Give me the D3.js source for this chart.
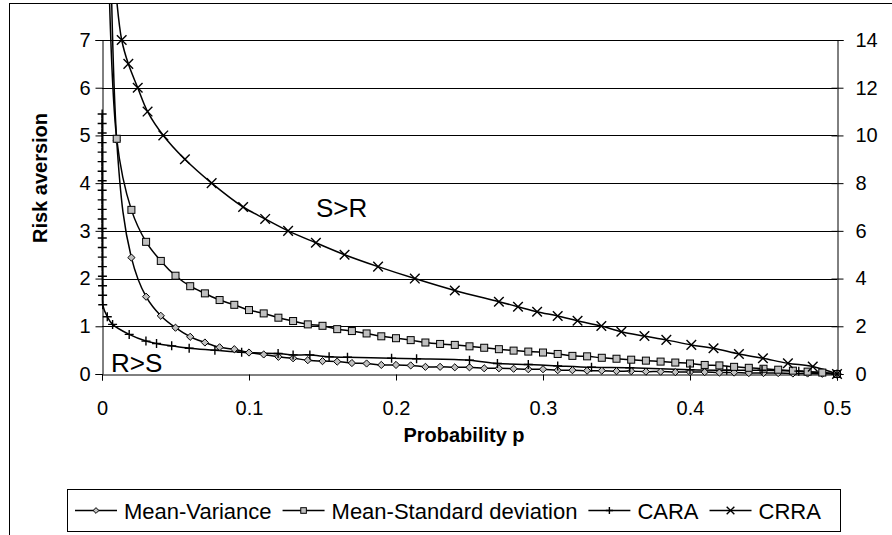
<!DOCTYPE html>
<html><head><meta charset="utf-8">
<script src="https://cdn.jsdelivr.net/npm/d3@7"></script>
<style>body{margin:0;background:#fff}svg{display:block}text{font-family:"Liberation Sans",Arial,sans-serif}</style>
</head><body><svg id="c" width="892" height="535"></svg>
<script>
// ---- data ----
const xTicks = [0, 0.1, 0.2, 0.3, 0.4, 0.5];
const yLeftTicks = [0, 1, 2, 3, 4, 5, 6, 7];
const yRightTicks = [0, 2, 4, 6, 8, 10, 12, 14];
const seriesNames = ["Mean-Variance", "Mean-Standard deviation", "CARA", "CRRA"];

const mvP = [0.001,0.01,0.02,0.03,0.04,0.05,0.06,0.07,0.08,0.09,0.10,0.11,0.12,0.13,0.14,0.15,0.16,0.17,0.18,0.19,0.20,0.21,0.22,0.23,0.24,0.25,0.26,0.27,0.28,0.29,0.30,0.31,0.32,0.33,0.34,0.35,0.36,0.37,0.38,0.39,0.40,0.41,0.42,0.43,0.44,0.45,0.46,0.47,0.48,0.49,0.50];
const mvV = [49.9,4.9,2.44,1.62,1.22,0.97,0.78,0.66,0.56,0.52,0.45,0.41,0.36,0.33,0.29,0.27,0.26,0.23,0.22,0.19,0.19,0.18,0.15,0.15,0.14,0.14,0.12,0.12,0.11,0.10,0.10,0.08,0.08,0.07,0.07,0.06,0.06,0.05,0.05,0.04,0.04,0.04,0.03,0.03,0.02,0.02,0.02,0.01,0.01,0.005,0];

const msdP = [0.001,0.01,0.02,0.03,0.04,0.05,0.06,0.07,0.08,0.09,0.10,0.11,0.12,0.13,0.14,0.15,0.16,0.17,0.18,0.19,0.20,0.21,0.22,0.23,0.24,0.25,0.26,0.27,0.28,0.29,0.30,0.31,0.32,0.33,0.34,0.35,0.36,0.37,0.38,0.39,0.40,0.41,0.42,0.43,0.44,0.45,0.46,0.47,0.48,0.49,0.50];
const msdV = [15.8,4.93,3.44,2.77,2.37,2.06,1.84,1.69,1.55,1.45,1.34,1.27,1.18,1.11,1.04,1.01,0.94,0.90,0.85,0.79,0.75,0.71,0.66,0.63,0.61,0.58,0.55,0.52,0.49,0.47,0.45,0.42,0.38,0.37,0.34,0.32,0.30,0.28,0.26,0.24,0.22,0.19,0.18,0.15,0.13,0.11,0.09,0.07,0.05,0.03,0];

const caraP = [0.0001,0.0001,0.0001,0.0001,0.0001,0.0001,0.0001,0.00012,0.00012,0.00012,0.00014,0.00014,0.00016,0.00018,0.0002,0.00022,0.00025,0.0003,0.00035,0.0004,0.0005,0.0036,0.0072,0.0185,0.0299,0.0371,0.0474,0.0593,0.0768,0.095,0.1198,0.13,0.1414,0.1545,0.167,0.197,0.214,0.25,0.269,0.29,0.31,0.333,0.359,0.40,0.425,0.449,0.474,0.50];
const caraV = [5.45,5.25,5.05,4.85,4.65,4.45,4.25,4.05,3.85,3.65,3.45,3.25,3.05,2.85,2.65,2.45,2.25,2.05,1.85,1.65,1.45,1.2,1.04,0.83,0.69,0.64,0.59,0.54,0.50,0.455,0.43,0.40,0.40,0.36,0.35,0.33,0.32,0.29,0.22,0.2,0.17,0.14,0.13,0.09,0.08,0.08,0.06,0];

const crraP = [0.0095,0.0134,0.0179,0.0243,0.031,0.0417,0.0564,0.0746,0.096,0.111,0.1266,0.1455,0.165,0.1878,0.2128,0.24,0.27,0.283,0.296,0.31,0.3235,0.3397,0.3533,0.369,0.3839,0.4009,0.416,0.4333,0.4496,0.4666,0.4835,0.50];
const crraV = [16,14,13,12,11,10,9,8,7,6.5,6,5.5,5,4.5,4,3.5,3.03,2.82,2.61,2.43,2.23,2.01,1.77,1.59,1.43,1.22,1.08,0.84,0.66,0.45,0.31,0];

// ---- layout ----
const L = 102, R = 837, T = 40, B = 374;
const svg = d3.select("#c");
const x = d3.scaleLinear().domain([0, 0.5]).range([L, R]);
const yL = d3.scaleLinear().domain([0, 7]).range([B, T]);
const yR = d3.scaleLinear().domain([0, 14]).range([B, T]);
const FONT = "Liberation Sans, Arial, sans-serif";

// chart area border (extends past the right and bottom edges)
svg.append("rect").attr("x", 9.5).attr("y", 3.5).attr("width", 900).attr("height", 600)
  .attr("fill", "#fff").attr("stroke", "#000").attr("stroke-width", 1);
svg.append("defs").append("clipPath").attr("id", "ca")
  .append("rect").attr("x", 10).attr("y", 4).attr("width", 890).attr("height", 540);

// gridlines
svg.append("g").selectAll("line").data(yLeftTicks.filter(d => d > 0)).join("line")
  .attr("x1", L).attr("x2", R).attr("y1", d => Math.round(yL(d)) + 0.5).attr("y2", d => Math.round(yL(d)) + 0.5)
  .attr("stroke", "#000").attr("stroke-width", 1);

// axes
const fs = 20;
const ax = svg.append("g").attr("transform", `translate(0,${B + 0.5})`)
  .call(d3.axisBottom(x).tickValues(xTicks).tickFormat(d => d === 0 ? "0" : d3.format(".1f")(d)).tickSize(6).tickPadding(20));
const ayl = svg.append("g").attr("transform", `translate(${L + 0.5},0)`)
  .call(d3.axisLeft(yL).tickValues(yLeftTicks).tickFormat(d3.format("d")).tickSize(7).tickPadding(5));
const ayr = svg.append("g").attr("transform", `translate(${R + 0.5},0)`)
  .call(d3.axisRight(yR).tickValues(yRightTicks).tickFormat(d3.format("d")).tickSize(6).tickPadding(12));
ayr.selectAll(".tick line").attr("x1", -6);
[ax, ayl, ayr].forEach(g => {
  g.select(".domain").attr("stroke", "#000");
  g.selectAll(".tick line").attr("stroke", "#000");
  g.selectAll("text").attr("font-size", fs).attr("fill", "#000").attr("font-family", FONT);
});

// axis titles
svg.append("text").attr("x", 464).attr("y", 442).attr("text-anchor", "middle")
  .attr("font-size", 20).attr("font-weight", "bold").text("Probability p");
svg.append("text").attr("transform", `translate(47,178) rotate(-90)`).attr("text-anchor", "middle")
  .attr("font-size", 20).attr("font-weight", "bold").text("Risk aversion");

// annotations
svg.append("text").attr("x", 316).attr("y", 217).attr("font-size", 26).text("S>R");
svg.append("text").attr("x", 111).attr("y", 372).attr("font-size", 26).text("R>S");

// series
const markerGray = "#c0c0c0";
const series = [
  { name: seriesNames[0], p: mvP, v: mvV, y: yL, m: "diamond" },
  { name: seriesNames[1], p: msdP, v: msdV, y: yL, m: "square" },
  { name: seriesNames[2], p: caraP, v: caraV, y: yL, m: "plus" },
  { name: seriesNames[3], p: crraP, v: crraV, y: yR, m: "cross" }
];
function drawMarker(g, type, cx, cy, k = 1) {
  if (type === "diamond") {
    const d = 3.6 * k;
    g.append("path").attr("d", `M${cx},${cy - d}L${cx + d},${cy}L${cx},${cy + d}L${cx - d},${cy}Z`)
      .attr("fill", markerGray).attr("stroke", "#000").attr("stroke-width", 1);
  } else if (type === "square") {
    const d = 3.5 * k;
    g.append("rect").attr("x", cx - d).attr("y", cy - d).attr("width", 2 * d).attr("height", 2 * d)
      .attr("fill", markerGray).attr("stroke", "#000").attr("stroke-width", 1);
  } else if (type === "plus") {
    const d = 4.5 * k;
    g.append("path").attr("d", `M${cx - d},${cy}H${cx + d}M${cx},${cy - d}V${cy + d}`)
      .attr("stroke", "#000").attr("stroke-width", 1.4).attr("fill", "none");
  } else {
    const d = 4.8 * k;
    g.append("path").attr("d", `M${cx - d},${cy - d}L${cx + d},${cy + d}M${cx - d},${cy + d}L${cx + d},${cy - d}`)
      .attr("stroke", "#000").attr("stroke-width", 1.4).attr("fill", "none");
  }
}
const plotG = svg.append("g").attr("clip-path", "url(#ca)");
series.forEach(s => {
  const pts = s.p.map((p, i) => [x(p), s.y(s.v[i])]);
  plotG.append("path").attr("d", d3.line().curve(d3.curveCatmullRom.alpha(0.5))(pts))
    .attr("fill", "none").attr("stroke", "#000").attr("stroke-width", 1.5);
});
series.forEach(s => {
  const g = plotG.append("g");
  s.p.forEach((p, i) => {
    const cx = x(p), cy = s.y(s.v[i]);
    if (cy >= T - 1) drawMarker(g, s.m, cx, cy);
  });
});

// legend
const lg = svg.append("g");
lg.append("rect").attr("x", 67.5).attr("y", 489.5).attr("width", 773).attr("height", 42)
  .attr("fill", "#fff").attr("stroke", "#000");
const lfs = 22;
let lx = 75;
const cyL = 510.5;
[["diamond", 0], ["square", 1], ["plus", 2], ["cross", 3]].forEach(([m, i]) => {
  lg.append("line").attr("x1", lx).attr("x2", lx + 42).attr("y1", cyL).attr("y2", cyL).attr("stroke", "#000").attr("stroke-width", 1.5);
  drawMarker(lg, m, lx + 21, cyL, 0.8);
  const t = lg.append("text").attr("x", lx + 49).attr("y", cyL + 8).attr("font-size", lfs).text(seriesNames[i]);
  lx += 49 + t.node().getComputedTextLength() + 11;
});
</script></body></html>
